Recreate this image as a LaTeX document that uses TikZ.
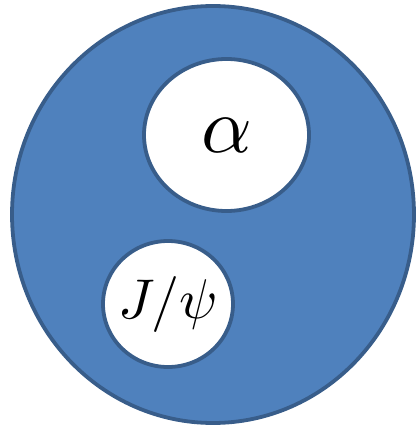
\documentclass[tikz,border=0pt]{standalone}
\usepackage{graphicx}
\usetikzlibrary{shapes.geometric}
\definecolor{shellblue}{RGB}{79,129,189}
\definecolor{shelledge}{RGB}{56,93,138}
\begin{document}
\begin{tikzpicture}[x=1pt, y=-1pt,
    shell/.style={ellipse, draw=shelledge, line width=3.8pt, fill=shellblue, inner sep=0pt},
    hole/.style={ellipse, draw=shelledge, line width=3.8pt, fill=white, inner sep=0pt}]
    \useasboundingbox (0,0) rectangle (418,428);

    % Outer nucleus
    \node[shell, minimum width=402pt, minimum height=417pt] (nucleus) at (213,214.5) {};

    % Clusters inside
    \node[hole, minimum width=165pt, minimum height=152pt] (alpha) at (226.5,135) {};
    \node[hole, minimum width=130pt, minimum height=126pt] (jpsi) at (168,304) {};

    % Labels
    \node (alphalabel) at (alpha.center) {\scalebox{7.9}{$\alpha$}};
    \node (jpsilabel) at (jpsi.center) {\scalebox{5.6}{$J/\psi$}};
\end{tikzpicture}
\end{document}
